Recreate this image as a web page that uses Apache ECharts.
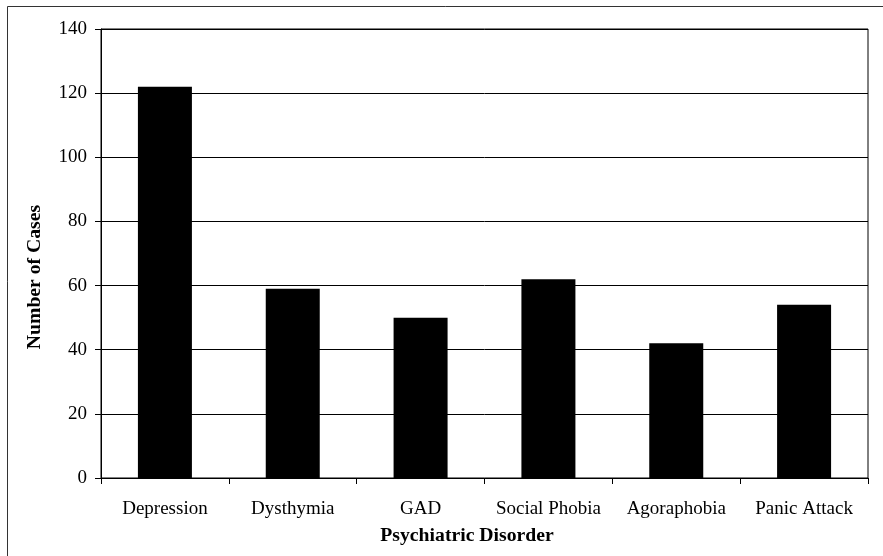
<!DOCTYPE html>
<html>
<head>
<meta charset="utf-8">
<script src="https://cdn.jsdelivr.net/npm/echarts@6/dist/echarts.min.js"></script>
<style>
html,body{margin:0;padding:0;background:#fff;}
#chart{width:883px;height:556px;}
</style>
</head>
<body>
<div id="chart"></div>
<script>
const categories = ['Depression', 'Dysthymia', 'GAD', 'Social Phobia', 'Agoraphobia', 'Panic Attack'];
const cases = [122, 59, 50, 62, 42, 54];
const yTicks = { min: 0, max: 140, interval: 20 };
const xTitle = 'Psychiatric Disorder';
const yTitle = 'Number of Cases';

const FONT = '"Liberation Serif", "Times New Roman", serif';
const chart = echarts.init(document.getElementById('chart'), null, { renderer: 'canvas' });
chart.setOption({
  animation: false,
  backgroundColor: '#fff',
  grid: {
    left: 101, top: 29, right: 15, bottom: 78,
    show: true, borderColor: '#000', borderWidth: 1, backgroundColor: 'transparent'
  },
  xAxis: {
    type: 'category',
    data: categories,
    axisLine: { lineStyle: { color: '#000', width: 1 } },
    axisTick: { show: true, length: 6, lineStyle: { color: '#000' } },
    axisLabel: { color: '#000', fontFamily: FONT, fontSize: 19, margin: 22, interval: 0 },
    splitLine: { show: false }
  },
  yAxis: {
    type: 'value',
    min: yTicks.min, max: yTicks.max, interval: yTicks.interval,
    axisLine: { show: true, lineStyle: { color: '#000', width: 1 } },
    axisTick: { show: true, length: 6, lineStyle: { color: '#000' } },
    axisLabel: { color: '#000', fontFamily: FONT, fontSize: 19, margin: 14 },
    splitLine: { show: true, lineStyle: { color: '#000', width: 1 } }
  },
  series: [{
    type: 'bar',
    data: cases,
    barWidth: 54,
    itemStyle: { color: '#000' }
  }],
  graphic: [
    {
      type: 'rect',
      shape: { x: 7.5, y: 6.5, width: 2000, height: 2000 },
      style: { fill: 'none', stroke: '#333', lineWidth: 1 },
      silent: true
    },
    {
      type: 'text',
      x: 467, y: 536,
      style: {
        text: xTitle, font: 'bold 19.7px ' + FONT, fill: '#000',
        textAlign: 'center', textVerticalAlign: 'middle'
      }
    },
    {
      type: 'text',
      x: 35, y: 277,
      rotation: Math.PI / 2,
      style: {
        text: yTitle, font: 'bold 19.7px ' + FONT, fill: '#000',
        textAlign: 'center', textVerticalAlign: 'middle'
      }
    }
  ]
});
</script>
</body>
</html>
